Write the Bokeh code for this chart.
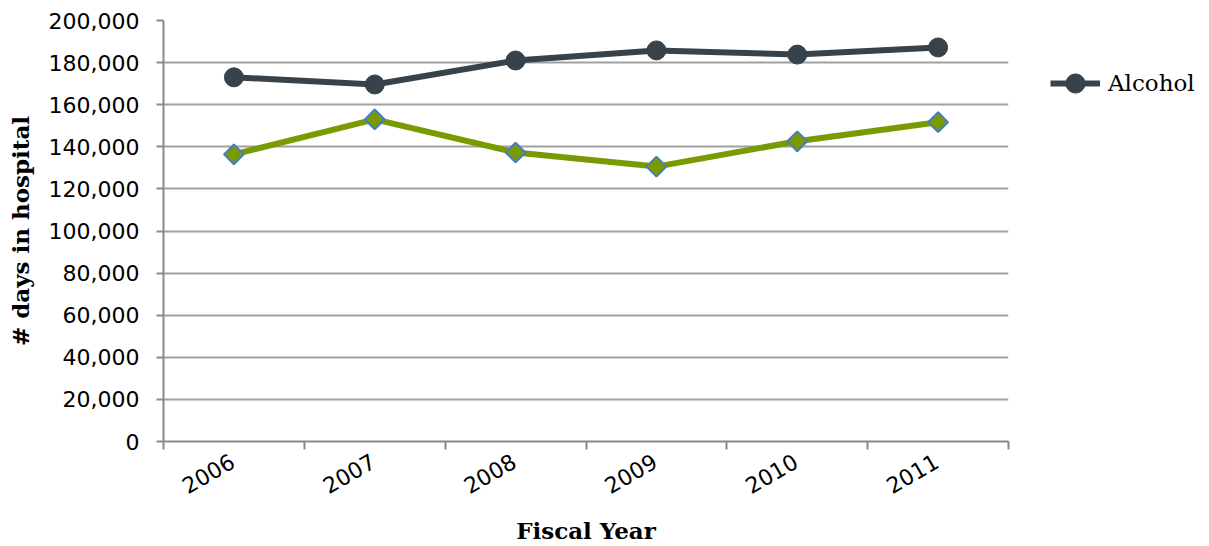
import math
from bokeh.plotting import figure
from bokeh.models import FixedTicker, NumeralTickFormatter, Legend, LegendItem, Range1d
from bokeh.embed import file_html
from bokeh.resources import INLINE

years = ["2006", "2007", "2008", "2009", "2010", "2011"]
alcohol = [173000, 169600, 181000, 185800, 183800, 187200]
other = [136400, 153000, 137300, 130600, 142600, 151700]
y_ticks = list(range(0, 200001, 20000))

xs = [i + 0.5 for i in range(len(years))]
label_pos = [x - 0.01 for x in xs]

p = figure(output_backend="svg", toolbar_location=None,
           x_range=Range1d(0, len(years)), y_range=Range1d(0, 200000),
           frame_width=845, frame_height=421,
           min_border_left=163, min_border_top=20, min_border_bottom=100, min_border_right=200)
p.outline_line_color = None
p.background_fill_color = "white"

DARK = "#37424A"
GREEN = "#799A00"
BLUE = "#4A7EBB"

gl = p.line(xs, other, line_color=GREEN, line_width=6)
gm = p.scatter(xs, other, marker="square", angle=math.pi / 4, size=14,
               fill_color=GREEN, line_color=BLUE, line_width=2)
al = p.line(xs, alcohol, line_color=DARK, line_width=6)
am = p.scatter(xs, alcohol, marker="circle", size=19, fill_color=DARK, line_color=DARK)

legend = Legend(items=[LegendItem(label="Alcohol", renderers=[al, am])],
                location=(42, 334), label_text_font="DejaVu Serif", label_text_font_size="23px",
                label_text_color="black", border_line_color=None, background_fill_alpha=0,
                glyph_width=50, glyph_height=48, label_height=48,
                padding=0, margin=0, spacing=0, label_standoff=8)
p.add_layout(legend, "right")

p.xaxis.ticker = FixedTicker(ticks=label_pos, minor_ticks=list(range(len(years) + 1)))
p.xaxis.major_label_overrides = {lp: yr for lp, yr in zip(label_pos, years)}
p.xaxis.major_label_orientation = math.pi / 6
p.xaxis.major_label_standoff = 10
p.xaxis.major_tick_line_color = None
p.xaxis.major_tick_out = 8
p.xaxis.minor_tick_line_color = "#898989"
p.xaxis.minor_tick_line_width = 2
p.xaxis.minor_tick_out = 8
p.xaxis.minor_tick_in = 0
p.xaxis.axis_line_color = "#898989"
p.xaxis.axis_line_width = 2
p.xaxis.axis_label = "Fiscal Year"
p.xaxis.axis_label_standoff = 13

p.yaxis.ticker = FixedTicker(ticks=y_ticks)
p.yaxis.formatter = NumeralTickFormatter(format="0,0")
p.yaxis.minor_tick_line_color = None
p.yaxis.major_tick_line_color = "#898989"
p.yaxis.major_tick_line_width = 2
p.yaxis.major_tick_out = 7
p.yaxis.major_tick_in = 0
p.yaxis.axis_line_color = "#898989"
p.yaxis.axis_line_width = 2
p.yaxis.major_label_standoff = 17
p.yaxis.axis_label = "# days in hospital"
p.yaxis.axis_label_standoff = 12

for ax in (p.xaxis, p.yaxis):
    ax.major_label_text_font = "DejaVu Sans"
    ax.major_label_text_font_size = "22px"
    ax.major_label_text_color = "black"
    ax.axis_label_text_font = "DejaVu Serif"
    ax.axis_label_text_font_style = "bold"
    ax.axis_label_text_font_size = "23px"
    ax.axis_label_text_color = "black"

p.xgrid.visible = False
p.ygrid.ticker = FixedTicker(ticks=y_ticks)
p.ygrid.grid_line_color = "#A0A0A0"
p.ygrid.grid_line_width = 2

open("out.html", "w").write(file_html(p, INLINE))
